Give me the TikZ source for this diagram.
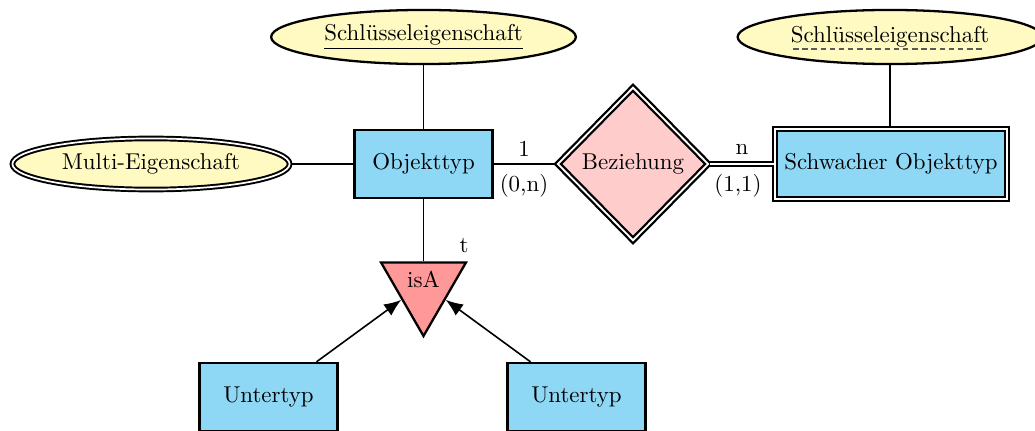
\documentclass[tikz,border=0pt]{standalone}
\usetikzlibrary{shapes.geometric,arrows.meta,calc}
\definecolor{attrfill}{RGB}{255,249,194}
\definecolor{entfill}{RGB}{142,216,246}
\definecolor{relfill}{RGB}{255,204,204}
\definecolor{isafill}{RGB}{255,153,153}
\definecolor{ulcol}{RGB}{90,90,90}
\begin{document}
\begin{tikzpicture}[x=0.4365pt,y=-0.4365pt,
  attr/.style={ellipse, draw, line width=1pt, fill=attrfill, minimum width=133pt, minimum height=23.6pt, inner sep=0pt},
  multiattr/.style={attr, double, line width=0.85pt, double distance=0.75pt, minimum width=121pt, minimum height=22.3pt},
  entity/.style={rectangle, draw, line width=1pt, fill=entfill, minimum width=60.2pt, minimum height=29.7pt, inner sep=0pt},
  weakentity/.style={entity, double, line width=0.95pt, double distance=0.75pt, minimum width=101.5pt, minimum height=30.8pt},
  relation/.style={diamond, draw, double, line width=1pt, double distance=0.8pt, fill=relfill, minimum width=66pt, minimum height=67pt, inner sep=0pt},
  isabox/.style={regular polygon, regular polygon sides=3, shape border rotate=180, draw, line width=1pt, fill=isafill, minimum size=42.8pt, inner sep=0pt},
  link/.style={line width=0.7pt},
  weaklink/.style={double, line width=0.7pt, double distance=0.9pt},
  arrowlink/.style={line width=0.7pt, -{Latex[length=7.5pt,width=6pt]}},
  card/.style={inner sep=0pt}
]
\useasboundingbox (0,0) rectangle (1035,430);
\clip (0,0) rectangle (1035,430);

% nodes
\node[attr] (k1) at (423.5,37) {\underline{Schlüsseleigenschaft}};
\node[attr] (k2) at (890,37) {Schlüsseleigenschaft};
\draw[ulcol, line width=0.5pt, dash pattern=on 2.4pt off 1.6pt] ($(k2.center)+(-97,12)$) -- ($(k2.center)+(95,12)$);
\node[multiattr] (multi) at (151,164) {Multi-Eigenschaft};
\node[entity] (obj) at (423.5,164) {Objekttyp};
\node[relation] (rel) at (633,164) {Beziehung};
\node[weakentity] (weak) at (891,164) {Schwacher Objekttyp};
\node[isabox] (isa) at (423.5,287) {};
\node[card] (isalabel) at (423.5,279) {isA};
\node[entity] (u1) at (268.5,397) {Untertyp};
\node[entity] (u2) at (576.5,397) {Untertyp};

% connectors
\draw[link] (k1) -- (obj);
\draw[link] (k2) -- (k2 |- weak.north);
\draw[link] (multi) -- (obj);
\draw[link] (obj) -- (rel);
\draw[weaklink] (rel) -- (weak);
\draw[link] (obj) -- (isa);
\draw[arrowlink] ($(u1.north)+(48,0)$) -- (isa.side 3);
\draw[arrowlink] ($(u2.north)+(-46,0)$) -- (isa.side 1);

% labels
\node[card] (c1) at (524,149) {1};
\node[card] (c2) at (524,186) {(0,n)};
\node[card] (c3) at (742,149) {n};
\node[card] (c4) at (738,186) {(1,1)};
\node[card] (ct) at (464,246) {t};
\end{tikzpicture}
\end{document}
